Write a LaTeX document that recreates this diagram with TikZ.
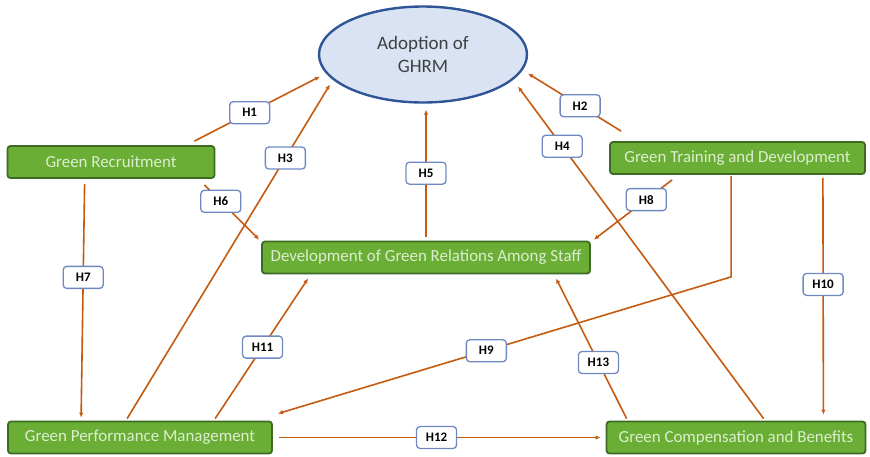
\documentclass[tikz,border=0pt]{standalone}
\usepackage{fontspec}
\setmainfont{Carlito}
\usetikzlibrary{arrows.meta,calc,shapes.geometric}
\definecolor{grfill}{HTML}{6AAE35}
\definecolor{grline}{HTML}{3E6B24}
\definecolor{grtext}{HTML}{DCEECF}
\definecolor{elfill}{HTML}{DAE3F3}
\definecolor{elline}{HTML}{2F5597}
\definecolor{arrcol}{HTML}{C55A11}
\definecolor{hline}{HTML}{6F88C2}
\tikzset{
  gbox/.style={draw=grline,fill=grfill,line width=1.8pt,rounded corners=3pt,minimum height=32pt,inner sep=1pt,text=grtext,font=\fontsize{16.9}{19}\selectfont},
  goal/.style={ellipse,draw=elline,fill=elfill,line width=2.4pt,minimum width=208pt,minimum height=96pt,inner sep=1pt,align=center,text=black!75,font=\fontsize{19}{23}\selectfont},
  hyp/.style={draw=hline,fill=white,line width=1.3pt,rounded corners=3.5pt,minimum width=40pt,minimum height=22pt,inner sep=1pt,font=\fontsize{13}{14}\selectfont\bfseries},
  arr/.style={-{Latex[length=5pt,width=4.5pt]},draw=arrcol,line width=1.6pt},
}

\begin{document}
\begin{tikzpicture}[x=1pt,y=-1pt]
 \useasboundingbox (0,0) rectangle (870,456);
 \node[goal] (adopt) at (423,54.5){Adoption of\\GHRM};
 \node[gbox,minimum width=207pt] (gr) at (111,162){Green Recruitment};
 \node[gbox,minimum width=255pt] (gtd) at (737.5,158){Green Training and Development};
 \node[gbox,minimum width=328pt] (dev) at (426,257.5){Development of Green Relations Among Staff};
 \node[gbox,minimum width=264pt] (gpm) at (140,437.5){Green Performance Management};
 \node[gbox,minimum width=259pt] (gcb) at (736,437.5){Green Compensation and Benefits};

 \draw[arr] ($(gr.north east)+(-21,-4)$) -- ($(adopt.center)+(-103,22)$) node[hyp,pos=.44]{H1};
 \draw[arr] ($(gtd.north west)+(12,-10)$) -- ($(adopt.center)+(105,19)$) node[hyp,pos=.44]{H2};
 \draw[arr] ($(gpm.north west)+(120,-2)$) -- ($(adopt.center)+(-93,30)$) node[hyp,pos=.78]{H3};
 \draw[arr] ($(gcb.north west)+(158,-2)$) -- ($(adopt.center)+(95,32)$) node[hyp,pos=.82]{H4};
 \draw[arr] ($(dev.north)+(0,-4)$) -- ($(adopt.south)+(3,6)$) node[hyp,pos=.5]{H5};
 \draw[arr] ($(gr.south east)+(-11,6)$) -- ($(dev.north west)+(-2,-1)$) node[hyp,pos=.3]{H6};
 \draw[arr] ($(gr.south west)+(78,5)$) -- ($(gpm.north west)+(74,-3)$) node[hyp,pos=.4]{H7};
 \draw[arr] ($(gtd.south west)+(63,5)$) -- ($(dev.north east)+(3,-1)$) node[hyp,pos=.33]{H8};
 \coordinate (bend) at ($(gtd.south west)+(122,102)$);
 \draw[arr] ($(gtd.south west)+(122,1)$) -- (bend) -- ($(gpm.north east)+(5,-7)$) node[hyp,pos=.54]{H9};
 \draw[arr] ($(gtd.south east)+(-43,3)$) -- ($(gcb.north east)+(-43,-6)$) node[hyp,pos=.45]{H10};
 \draw[arr] ($(gpm.north west)+(208,-2)$) -- ($(dev.south west)+(47,4)$) node[hyp,pos=.51]{H11};
 \draw[arr] ($(gpm.east)+(6,0)$) -- ($(gcb.west)+(-5,0)$) node[hyp,pos=.49]{H12};
 \draw[arr] ($(gcb.north west)+(21,-2)$) -- ($(dev.south west)+(295,4)$) node[hyp,pos=.4]{H13};
\end{tikzpicture}
\end{document}
